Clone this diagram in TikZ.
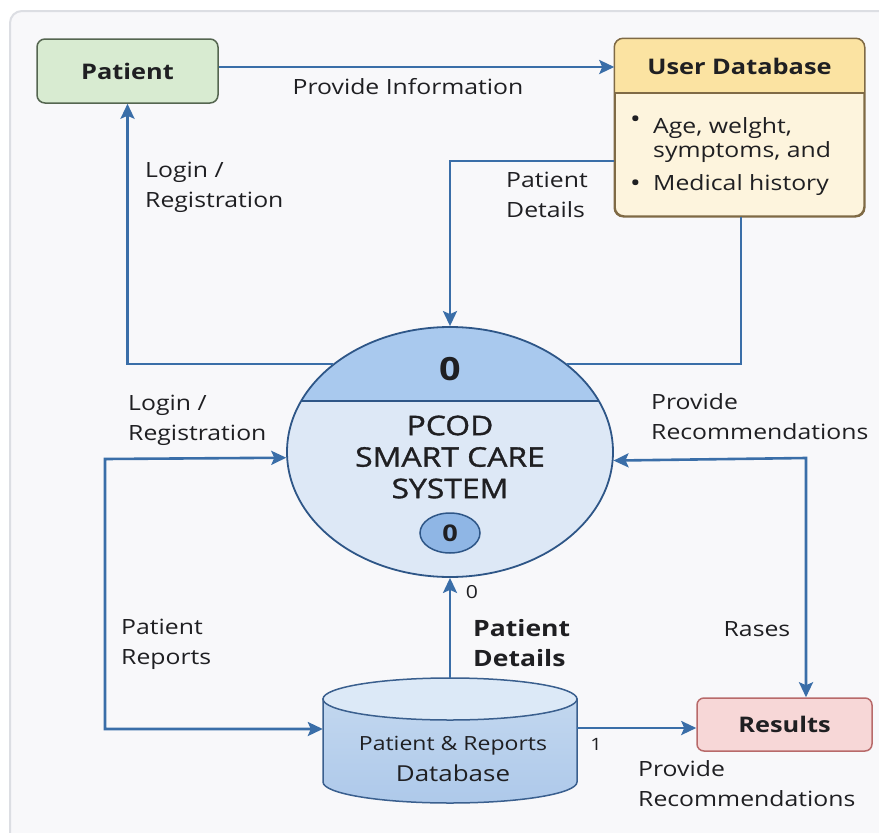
\documentclass[tikz,border=0pt]{standalone}
\usepackage{fontspec}
\setmainfont[FakeStretch=1.18]{Open Sans}
\newfontfamily\medfont[FakeStretch=1.18,FakeBold=1.2]{Open Sans}
\usetikzlibrary{arrows.meta,shapes.geometric,calc}
\definecolor{txt}{HTML}{1F1F22}
\definecolor{panel}{HTML}{F8F8FA}
\definecolor{panelborder}{HTML}{DCDEE3}
\definecolor{flowblue}{HTML}{3A6EA8}
\definecolor{sysborder}{HTML}{2E5687}
\definecolor{sysband}{HTML}{A9C9EE}
\definecolor{sysbody}{HTML}{DDE8F6}
\definecolor{smallfill}{HTML}{8FB6E5}
\definecolor{dbbody}{HTML}{C2D7EF}
\definecolor{dbbody2}{HTML}{AEC9EA}
\definecolor{dbtopc}{HTML}{DCE9F7}
\definecolor{dbborder}{HTML}{3A5F8E}
\definecolor{resfill}{HTML}{F7D7D7}
\definecolor{resborder}{HTML}{B86A6A}
\definecolor{patfill}{HTML}{D8EBD1}
\definecolor{patborder}{HTML}{556650}
\definecolor{udbhead}{HTML}{FBE3A2}
\definecolor{udbbody}{HTML}{FDF4DD}
\definecolor{udbborder}{HTML}{7F6A45}
\begin{document}
\begin{tikzpicture}[x=1pt,y=-1pt,
  every node/.style={text=txt},
  flow/.style={draw=flowblue, line width=2.6pt, -{Stealth[length=15pt,width=14pt,inset=3pt]}},
  flowboth/.style={draw=flowblue, line width=2.6pt, {Stealth[length=15pt,width=14pt,inset=3pt]}-{Stealth[length=15pt,width=14pt,inset=3pt]}},
  plainflow/.style={draw=flowblue, line width=2.6pt},
  lbl/.style={align=left, inner sep=0pt, anchor=west, font=\fontsize{21}{30}\selectfont},
  lblc/.style={align=center, inner sep=0pt, font=\fontsize{21}{30}\selectfont},
  titlefont/.style={font=\bfseries\fontsize{21.5}{26}\selectfont},
  boxstyle/.style={rounded corners=8pt, line width=1.5pt, inner sep=0pt}]
\useasboundingbox (0,0) rectangle (879,833);
\fill[white] (0,0) rectangle (879,833);
\draw[draw=panelborder, fill=panel, line width=2pt, rounded corners=12pt] (10,11) rectangle (900,850);

% Patient
\node[boxstyle, draw=patborder, fill=patfill, minimum width=181pt, minimum height=64pt, titlefont] (pat) at (127.5,71) {Patient};

% User Database
\node[boxstyle, rounded corners=9pt, draw=udbborder, fill=udbbody, minimum width=249pt, minimum height=177pt] (udb) at (739.5,127.5) {};
\begin{scope}
  \clip[rounded corners=9pt] (udb.north west) rectangle (udb.south east);
  \fill[udbhead] (udb.north west) rectangle (864,93);
\end{scope}
\draw[udbborder, line width=1.5pt] (udb.west |- 0,93) -- (udb.east |- 0,93);
\draw[udbborder, line width=1.5pt, rounded corners=9pt] (udb.north west) rectangle (udb.south east);
\node[titlefont, inner sep=0pt] (udbt) at (739.5,66) {User Database};
\node[anchor=base west, inner sep=0pt, font=\fontsize{24}{24}\selectfont] (b1) at (630,127) {•};
\node[anchor=base west, inner sep=0pt, font=\fontsize{21}{21}\selectfont] (l1) at (653,133) {Age, welght,};
\node[anchor=base west, inner sep=0pt, font=\fontsize{21}{21}\selectfont] (l2) at (653,157) {symptoms, and};
\node[anchor=base west, inner sep=0pt, font=\fontsize{24}{24}\selectfont] (b2) at (630,191) {•};
\node[anchor=base west, inner sep=0pt, font=\fontsize{21}{21}\selectfont] (l3) at (653,190) {Medical history};

% Central process
\fill[sysbody] (450,452) ellipse [x radius=163pt, y radius=125pt];
\begin{scope}
  \clip (450,452) ellipse [x radius=163pt, y radius=125pt];
  \fill[sysband] (280,320) rectangle (620,401);
  \draw[sysborder, line width=1.5pt] (280,401) -- (620,401);
\end{scope}
\node[ellipse, draw=sysborder, line width=1.8pt, minimum width=326pt, minimum height=250pt, inner sep=0pt] (sys) at (450,452) {};
\node[font=\bfseries\fontsize{32}{32}\selectfont, inner sep=0pt] (lvl) at (450,369) {0};
\node[align=center, inner sep=0pt, font=\medfont\fontsize{27}{31.5}\selectfont] (sysname) at (450,457) {PCOD\\SMART CARE\\SYSTEM};
\node[ellipse, draw=sysborder, fill=smallfill, line width=1.5pt, minimum width=60pt, minimum height=40pt, inner sep=0pt, font=\bfseries\fontsize{23}{23}\selectfont] (sub) at (450,533) {0};

% Database cylinder
\node[minimum width=254pt, minimum height=125pt, inner sep=0pt] (db) at (450,740.5) {};
\path[draw=dbborder, line width=1.5pt, top color=dbbody, bottom color=dbbody2]
  (323,699) -- (323,782) arc[start angle=180, end angle=360, x radius=127pt, y radius=21pt] -- (577,699) -- cycle;
\draw[dbborder, line width=1.5pt, fill=dbtopc] (450,699) ellipse [x radius=127pt, y radius=21pt];
\node[inner sep=0pt, font=\fontsize{19.5}{19.5}\selectfont] (dbt1) at (453,746) {Patient \& Reports};
\node[inner sep=0pt, font=\fontsize{22}{22}\selectfont] (dbt2) at (453,773) {Database};

% Results
\node[boxstyle, rounded corners=7pt, draw=resborder, fill=resfill, minimum width=175pt, minimum height=53pt, titlefont] (res) at (784.5,724.5) {Results};

% Coordinates for bends
\coordinate (lt) at (105,459);
\coordinate (lb) at (105,729);
\coordinate (rt) at (806,458);
\coordinate (dbtop) at (450,678);
\coordinate (dbr) at (577,728);

% Connectors
\draw[flow] ([yshift=4pt]pat.east) -- ([yshift=4pt]pat.east -| udb.west);
\draw[flow] (sys.143.4) -| (pat.south);
\draw[flow] ([yshift=-33.5pt]udb.west) -| (sys.north);
\draw[plainflow] ([xshift=1.5pt]udb.south) |- (sys.37.3);
\draw[flowboth] (sys.182.5) -- (lt) -- (lb) -- (lb -| db.west);
\draw[flowboth] (sys.357.9) -- (rt) -- (rt |- res.north);
\draw[flow] (dbtop) -- (sys.south);
\draw[flow] (dbr) -- (dbr -| res.west);

% Labels
\node[lblc] (t1) at (408,87) {Provide Information};
\node[lbl] (t2) at (145,187) {Login /\\Registration};
\node[lbl] (t3) at (506,195) {Patient\\Details};
\node[lbl] (t4) at (128,420) {Login /\\Registration};
\node[lbl] (t5) at (651,417) {Provide\\Recommendations};
\node[lbl] (t6) at (121,644) {Patient\\Reports};
\node[lblc] (t7) at (757,629) {Rases};
\node[inner sep=0pt, font=\fontsize{18}{18}\selectfont] (t8) at (472,592) {0};
\node[lbl, font=\bfseries\fontsize{22.5}{30}\selectfont] (t9) at (473,643) {Patient\\Details};
\node[inner sep=0pt, font=\fontsize{17}{17}\selectfont] (t10) at (596,744) {1};
\node[lbl] (t11) at (638,784) {Provide\\Recommendations};
\end{tikzpicture}
\end{document}
